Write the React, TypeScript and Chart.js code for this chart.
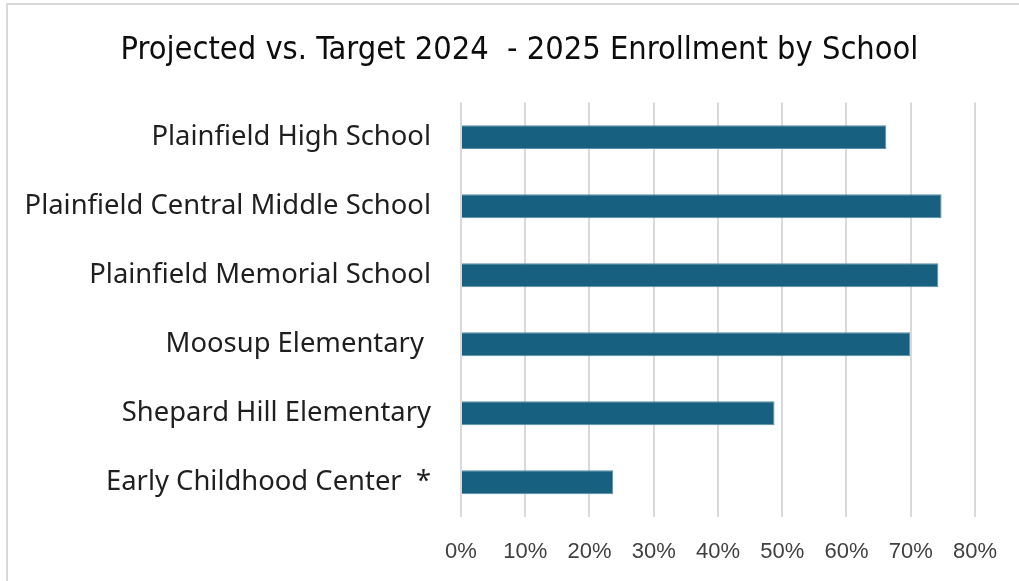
import React, { useEffect, useRef } from "react";
import { Chart, registerables } from "chart.js";

Chart.register(...registerables);

const titleText = "Projected vs. Target 2024  - 2025 Enrollment by School";
const schools = [
  "Plainfield High School",
  "Plainfield Central Middle School",
  "Plainfield Memorial School",
  "Moosup Elementary ",
  "Shepard Hill Elementary",
  "Early Childhood Center  *",
];
const percentOfTarget = [0.662, 0.748, 0.743, 0.699, 0.488, 0.237];
const axisMax = 0.8;
const axisStep = 0.1;

export default function App() {
  const ref = useRef<HTMLCanvasElement | null>(null);

  useEffect(() => {
    if (!ref.current) return;
    const chart = new Chart(ref.current, {
      type: "bar",
      data: {
        labels: schools,
        datasets: [
          {
            data: percentOfTarget,
            backgroundColor: "#17607f",
            borderColor: "#5a8fa9",
            borderWidth: 1,
            barPercentage: 0.347,
            categoryPercentage: 1,
          },
        ],
      },
      options: {
        indexAxis: "y",
        animation: false,
        responsive: false,
        layout: { padding: { left: 0, right: 41.5, top: 102.6, bottom: 15.8 } },
        plugins: {
          legend: { display: false },
          tooltip: { enabled: false },
          title: { display: false },
        },
        scales: {
          x: {
            min: 0,
            max: axisMax,
            ticks: {
              stepSize: axisStep,
              color: "#404040",
              padding: 22,
              font: { family: "'Liberation Sans', Arial, sans-serif", size: 22 },
              callback: (v: any) => Math.round(Number(v) * 100) + "%",
            },
            grid: { color: "#d9d9d9", lineWidth: 2, drawTicks: false },
            border: { display: false },
            afterFit: (scale: any) => {
              scale.height = 48.4;
            },
          },
          y: {
            ticks: {
              color: "#1f1f1f",
              padding: 30,
              font: { family: "'Noto Sans', sans-serif", size: 27.4 },
            },
            grid: { display: false, drawTicks: false },
            border: { display: false },
            afterFit: (scale: any) => {
              scale.width = 461;
            },
          },
        },
      },
    });
    return () => chart.destroy();
  }, []);

  return (
    <div style={{ position: "fixed", left: 0, top: 0, width: 1019, height: 581, overflow: "hidden", background: "#fff" }}>
      <div
        style={{
          position: "absolute",
          left: 6,
          top: 3,
          width: 1100,
          height: 700,
          border: "2px solid #d9d9d9",
          boxSizing: "border-box",
        }}
      />
      <canvas ref={ref} width={1019} height={581} style={{ position: "absolute", left: 0, top: 0, width: 1019, height: 581 }} />
      <div
        style={{
          position: "absolute",
          left: 0,
          top: 29,
          width: 1039,
          textAlign: "center",
          fontFamily: "'Liberation Sans Narrow', 'DejaVu Sans Condensed', sans-serif",
          fontSize: "32.3px",
          lineHeight: "38.76px",
          color: "#0d0d0d",
          whiteSpace: "pre",
        }}
      >
        {titleText}
      </div>
    </div>
  );
}
